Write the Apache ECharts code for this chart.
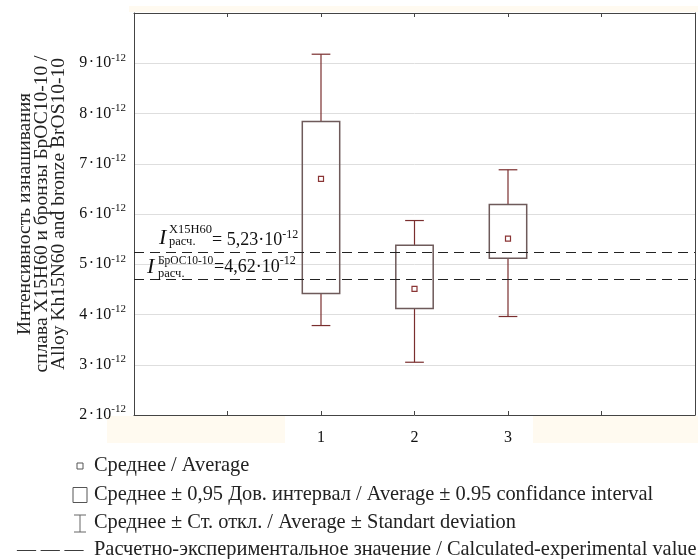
<!DOCTYPE html>
<html><head><meta charset="utf-8">
<script src="https://cdn.jsdelivr.net/npm/echarts@6/dist/echarts.min.js"></script>
<style>html,body{margin:0;padding:0;background:#fff}#c{width:698px;height:559px}</style>
</head><body><div id="c"></div>
<script>
// ---- data ----
const categories = [1, 2, 3];
const means  = [6.70, 4.51, 5.51];
const ciLow  = [4.42, 4.12, 5.12];
const ciHigh = [7.84, 5.38, 6.19];
const sdLow  = [3.78, 3.05, 3.96];
const sdHigh = [9.18, 5.87, 6.88];
const refLines = [5.23, 4.70];
const refSup = ['X15H60', 'БрОС10-10'];
const refText = ['= 5,23·10', '=4,62·10'];
const yTickLabels = [2, 3, 4, 5, 6, 7, 8, 9];
const yTitle = ['Интенсивность изнашивания', 'сплава Х15Н60 и бронзы БрОС10-10 /', 'Alloy Kh15N60 and bronze BrOS10-10'];
const legendTexts = [
  'Среднее / Average',
  'Среднее ± 0,95 Дов. интервал / Average ± 0.95 confidance interval',
  'Среднее ± Ст. откл. / Average ± Standart deviation',
  'Расчетно-экспериментальное значение / Calculated-experimental value'
];

const FONT = '"Liberation Serif", "DejaVu Serif", serif';
const boxColor = '#6e5a5a';
const whiskerColor = '#7a2e2e';
const meanColor = '#8a3535';
const cream = '#fffaf0';

const boxData = categories.map((c, i) => [c, means[i], ciLow[i], ciHigh[i], sdLow[i], sdHigh[i]]);

const chart = echarts.init(document.getElementById('c'), null, {renderer: 'canvas'});

const option = {
  animation: false,
  backgroundColor: '#fff',
  grid: {left: 134, right: 3, top: 13, bottom: 144, containLabel: false},
  xAxis: [{
    type: 'value', min: -1, max: 5, interval: 1, position: 'bottom',
    axisLine: {show: true, onZero: false, lineStyle: {color: '#444', width: 1}},
    axisTick: {show: true, inside: true, length: 4, lineStyle: {color: '#444'}},
    axisLabel: {
      margin: 15, color: '#111', fontFamily: FONT, fontSize: 16,
      formatter: v => categories.indexOf(v) >= 0 ? String(v) : ''
    },
    splitLine: {show: false}
  }, {
    type: 'value', min: -1, max: 5, interval: 1, position: 'top',
    axisLine: {show: true, onZero: false, lineStyle: {color: '#444', width: 1}},
    axisTick: {show: true, inside: true, length: 4, lineStyle: {color: '#444'}},
    axisLabel: {show: false}, splitLine: {show: false}
  }],
  yAxis: [{
    type: 'value', min: 2, max: 10, interval: 1, position: 'left',
    name: yTitle.join('\n'), nameLocation: 'middle', nameRotate: 90, nameGap: 63,
    nameTextStyle: {fontFamily: FONT, fontSize: 19.5, lineHeight: 17, color: '#222', align: 'center'},
    axisLine: {show: true, onZero: false, lineStyle: {color: '#444', width: 1}},
    axisTick: {show: false},
    axisLabel: {
      margin: 8, fontFamily: FONT, color: '#111',
      formatter: v => yTickLabels.indexOf(v) >= 0 ? '{a|' + v + '\u200a·\u200a10}{s|-12}' : '',
      rich: {
        a: {fontFamily: FONT, fontSize: 16, lineHeight: 22, color: '#111', verticalAlign: 'middle'},
        s: {fontFamily: FONT, fontSize: 11, lineHeight: 12, color: '#111', verticalAlign: 'top'}
      }
    },
    splitLine: {show: true, lineStyle: {color: '#dedede', width: 1}}
  }, {
    type: 'value', min: 2, max: 10, interval: 1, position: 'right',
    axisLine: {show: true, onZero: false, lineStyle: {color: '#444', width: 1}},
    axisTick: {show: false}, axisLabel: {show: false}, splitLine: {show: false}
  }],
  series: [{
    type: 'custom',
    xAxisIndex: 0, yAxisIndex: 0,
    z: 3,
    data: boxData,
    renderItem: function (params, api) {
      const x = api.value(0);
      const m = api.value(1), lo = api.value(2), hi = api.value(3), sl = api.value(4), sh = api.value(5);
      const tl = api.coord([x - 0.2, hi]);
      const br = api.coord([x + 0.2, lo]);
      const c = api.coord([x, m]);
      const t = api.coord([x, sh]);
      const b = api.coord([x, sl]);
      const capHalf = api.size([0.1, 0])[0];
      const ls = {stroke: whiskerColor, lineWidth: 1.2};
      return {
        type: 'group',
        children: [
          {type: 'line', shape: {x1: c[0], y1: t[1], x2: c[0], y2: tl[1]}, style: ls},
          {type: 'line', shape: {x1: c[0] - capHalf, y1: t[1], x2: c[0] + capHalf, y2: t[1]}, style: ls},
          {type: 'line', shape: {x1: c[0], y1: br[1], x2: c[0], y2: b[1]}, style: ls},
          {type: 'line', shape: {x1: c[0] - capHalf, y1: b[1], x2: c[0] + capHalf, y2: b[1]}, style: ls},
          {type: 'rect', shape: {x: tl[0], y: tl[1], width: br[0] - tl[0], height: br[1] - tl[1]},
            style: {fill: 'rgba(255,255,255,0)', stroke: boxColor, lineWidth: 1.5}},
          {type: 'rect', shape: {x: c[0] - 2.5, y: c[1] - 2.5, width: 5, height: 5},
            style: {fill: '#fff', stroke: meanColor, lineWidth: 1.2}}
        ]
      };
    }
  }, {
    type: 'line', xAxisIndex: 0, yAxisIndex: 0, data: [], z: 5,
    markLine: {
      silent: true, symbol: ['none', 'none'],
      label: {show: false},
      lineStyle: {color: '#222', type: [10, 6], width: 1.2},
      data: refLines.map(v => ({yAxis: v}))
    }
  }]
};
chart.setOption(option);

// annotations positioned from the axis scales
const yPx = refLines.map(v => chart.convertToPixel({xAxisIndex: 0, yAxisIndex: 0}, [0, v])[1]);
const gText = (x, y, text, size, opts) => Object.assign({
  type: 'text', x: x, y: y, z: 10,
  style: Object.assign({text: text, fontFamily: FONT, fontSize: size, fill: '#111', align: 'left', verticalAlign: 'middle'}, opts || {})
});
const richMain = {
  m: {fontFamily: FONT, fontSize: 18, lineHeight: 24, fill: '#111', verticalAlign: 'middle'},
  s: {fontFamily: FONT, fontSize: 12, lineHeight: 13, fill: '#111', verticalAlign: 'top'}
};
const annOffsets = [
  {ix: 159, iy: -14, sx: 169, sy: -23, by: -11, mx: 212, my: -12, fs: 12.5},
  {ix: 147, iy: -12, sx: 158, sy: -18, by: -6, mx: 214, my: -12, fs: 11.5}
];
const graphics = [
  {type: 'rect', z: -1, shape: {x: 107, y: 416, width: 178, height: 27}, style: {fill: cream}},
  {type: 'rect', z: -1, shape: {x: 533, y: 416, width: 165, height: 27}, style: {fill: cream}},
  {type: 'rect', z: -1, shape: {x: 129, y: 6, width: 569, height: 6}, style: {fill: cream}}
];
refLines.forEach((v, i) => {
  const o = annOffsets[i], y = yPx[i];
  graphics.push(gText(o.ix, y + o.iy, 'I', 22, {fontStyle: 'italic'}));
  graphics.push(gText(o.sx, y + o.sy, refSup[i], o.fs));
  graphics.push(gText(o.sx, y + o.by, 'расч.', 12.5));
  graphics.push({type: 'text', x: o.mx, y: y + o.my, z: 10,
    style: {text: '{m|' + refText[i] + '}{s|-12}', rich: richMain, fontFamily: FONT, fontSize: 18, align: 'left', verticalAlign: 'middle', fill: '#111'}});
});

// legend (drawn as graphics)
const legY = [466, 495, 523, 550];
const legX = 94;
const LF = 20.4;
graphics.push({type: 'rect', shape: {x: 77, y: legY[0] - 3, width: 6, height: 6}, style: {fill: '#fff', stroke: '#555', lineWidth: 1}});
graphics.push({type: 'rect', shape: {x: 73, y: legY[1] - 7.5, width: 14, height: 15}, style: {fill: '#fff', stroke: '#555', lineWidth: 1}});
graphics.push({type: 'group', children: [
  {type: 'line', shape: {x1: 80, y1: legY[2] - 8, x2: 80, y2: legY[2] + 9}, style: {stroke: '#666', lineWidth: 1}},
  {type: 'line', shape: {x1: 74, y1: legY[2] - 8, x2: 86, y2: legY[2] - 8}, style: {stroke: '#666', lineWidth: 1}},
  {type: 'line', shape: {x1: 74, y1: legY[2] + 9, x2: 86, y2: legY[2] + 9}, style: {stroke: '#666', lineWidth: 1}}
]});
graphics.push(gText(17, legY[3], '— — —', 19, {fill: '#333'}));
legendTexts.forEach((t, i) => graphics.push(gText(legX, legY[i], t, LF, {fill: '#222'})));

chart.setOption({graphic: graphics});
</script>
</body></html>
